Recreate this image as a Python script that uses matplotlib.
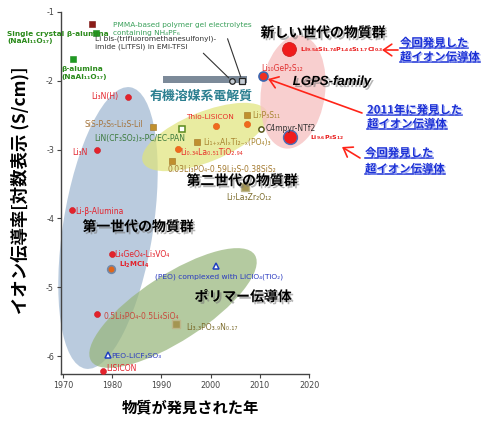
import matplotlib
matplotlib.use("Agg")
import matplotlib.pyplot as plt
from matplotlib.patches import Ellipse, Rectangle
from matplotlib import transforms
import matplotlib.patheffects as pe
from matplotlib.lines import Line2D

# ---------------- data ----------------
# first-generation inorganic conductors (red circles)
red_names = ["Li₃N(H)", "Li₃N", "Li-β-Alumina", "Li₄GeO₄-Li₃VO₄",
             "0.5Li₃PO₄-0.5Li₄SiO₄", "LISICON"]
red_years = [1983.2, 1977.0, 1971.8, 1979.9, 1977.0, 1978.1]
red_logs = [-2.23, -3.00, -3.88, -4.52, -5.39, -6.22]

# second-generation (orange circles)
orange_names = ["Thio-LISICON", "", "Li₀.₃₄La₀.₅₁TiO₂.₉₄"]
orange_years = [2001.2, 2007.3, 1993.3]
orange_logs = [-2.66, -2.63, -2.99]

# brown squares
brown_names = ["SiS-P₂S₅-Li₂S-LiI", "Li₇P₃S₁₁", "Li₁₊ₓAlₓTi₂₋ₓ(PO₄)₃",
               "0.03Li₃PO₄-0.59Li₂S-0.38SiS₂"]
brown_years = [1988.3, 2007.3, 1997.2, 1992.1]
brown_logs = [-2.67, -2.50, -2.89, -3.17]

# olive squares
olive_names = ["Li₇La₃Zr₂O₁₂", "Li₃.₃PO₃.₉N₀.₁₇"]
olive_years = [2006.9, 1992.9]
olive_logs = [-3.54, -5.54]

# beta-alumina (green squares) and dark red square
green_names = ["Single crystal β-alumina\n(NaAl₁₁O₁₇)", "β-alumina\n(NaAl₁₁O₁₇)"]
green_years = [1976.7, 1972.0]
green_logs = [-1.30, -1.69]
darkred_years = [1976.0]
darkred_logs = [-1.17]

# organic / ionic-liquid electrolytes
gel_names = ["LiN(CF₃SO₂)₃-PC/EC-PAN"]
gel_years = [1994.2]
gel_logs = [-2.70]
il_names = ["C4mpyr-NTf2"]
il_years = [2010.2]
il_logs = [-2.70]
org_names = ["Li bis-(trifluoromethanesulfonyl)-\nimide (LiTFSI) in EMI-TFSI",
             "PMMA-based polymer gel electrolytes\ncontaining NH₄PF₆"]
org_years = [2004.3, 2006.4]
org_logs = [-2.00, -2.00]

# polymer conductors (blue triangles)
poly_names = ["(PEO) complexed with LiClO₄(TiO₂)", "PEO-LiCF₃SO₃"]
poly_years = [2001.2, 1979.1]
poly_logs = [-4.69, -5.99]

# new superionic conductors
lgps_names = [r"$\mathbf{Li_{9.54}Si_{1.74}P_{1.44}S_{11.7}Cl_{0.3}}$",
              r"$\mathbf{Li_{9.6}P_{3}S_{12}}$"]
lgps_years = [2015.9, 2016.1]
lgps_logs = [-1.54, -2.82]
lgp_names = ["Li₁₀GeP₂S₁₂"]
lgp_years = [2010.6]
lgp_logs = [-1.93]
mcl_names = [r"$\mathbf{Li_{2}MCl_{4}}$"]
mcl_years = [1979.7]
mcl_logs = [-4.73]

xticks = [1970, 1980, 1990, 2000, 2010, 2020]
yticks = [-1, -2, -3, -4, -5, -6]

# ---------------- figure ----------------
W, H = 500, 430
fig = plt.figure(figsize=(W / 100, H / 100), dpi=100)
ax = fig.add_axes([61 / W, 56 / H, 248 / W, 362 / H])
ax.set_xlim(1969.6, 2020)
ax.set_ylim(-6.26, -1.0)
for s in ["top", "right"]:
    ax.spines[s].set_visible(False)
for s in ["left", "bottom"]:
    ax.spines[s].set_color("#444444")
    ax.spines[s].set_linewidth(1.0)
ax.set_xticks(xticks)
ax.set_xticklabels([str(v) for v in xticks])
ax.set_yticks(yticks)
ax.set_yticklabels(["-%d" % abs(v) for v in yticks])
ax.tick_params(labelsize=5.8, labelcolor="#444444", color="#444444",
               length=3, width=0.8, direction="out", pad=2)

CJK = ["Noto Sans CJK JP", "DejaVu Sans"]


def px2data(px, py):
    x = 1969.6 + (px - 61) / 248 * 50.4
    y = -1.0 - (py - 12) / 362 * 5.26
    return x, y


def ellipse(cpx, cpy, w, h, ang, color, alpha, z=0.5):
    cx, cy = px2data(cpx, cpy)
    tr = fig.dpi_scale_trans + transforms.ScaledTranslation(cx, cy, ax.transData)
    e = Ellipse((0, 0), w / 100, h / 100, angle=ang, transform=tr,
                facecolor=color, edgecolor="none", alpha=alpha, zorder=z,
                clip_on=False)
    ax.add_artist(e)


ellipse(108, 228, 285, 90, 81, "#a9bfd6", 0.8)
ellipse(173, 308, 195, 66, 33, "#98b67c", 0.72)
ellipse(205, 137, 134, 50, 22, "#e0e47a", 0.7)
ellipse(293, 92, 114, 64, 82, "#f7c3c3", 0.8)

# organic electrolyte bar
bx0, by0 = px2data(163, 83)
bx1, by1 = px2data(247, 76)
ax.add_patch(Rectangle((bx0, by0), bx1 - bx0, by1 - by0, facecolor="#7c8a99",
                       edgecolor="none", zorder=2))

# ---------------- markers ----------------
ax.plot(red_years, red_logs, "o", ms=4.3, color="#e3222b", mec="#d01a22", mew=0.4, zorder=4, ls="none")
ax.plot(orange_years, orange_logs, "o", ms=4.5, color="#f06a1e", mec="#e05a10", mew=0.4, zorder=4, ls="none")
ax.plot(brown_years, brown_logs, "s", ms=4.3, color="#c0902e", mec="#a07020", mew=0.4, zorder=4, ls="none")
ax.plot(olive_years, olive_logs, "s", ms=5.5, color="#a49552", mec="#bdb68a", mew=1.0, zorder=4, ls="none")
ax.plot(green_years, green_logs, "s", ms=4.8, color="#1f9a23", mec="#1f8a1f", mew=0.4, zorder=4, ls="none")
ax.plot(darkred_years, darkred_logs, "s", ms=5.0, color="#8b1c18", mec="#7a1010", mew=0.4, zorder=4, ls="none")
ax.plot(gel_years, gel_logs, "s", ms=4.0, mfc="white", mec="#5a8a1e", mew=1.1, zorder=4, ls="none")
ax.plot(il_years, il_logs, "o", ms=3.8, mfc="white", mec="#5a5a1e", mew=1.1, zorder=4, ls="none")
ax.plot(org_years[:1], org_logs[:1], "o", ms=4.0, mfc="#c4ccd4", mec="#222222", mew=0.9, zorder=4, ls="none")
ax.plot(org_years[1:], org_logs[1:], "s", ms=4.0, mfc="#c4ccd4", mec="#222222", mew=0.9, zorder=4, ls="none")
ax.plot(poly_years, poly_logs, "^", ms=4.5, mfc="white", mec="#2040c0", mew=1.1, zorder=4, ls="none")
ax.plot(lgps_years[:1], lgps_logs[:1], "o", ms=10, color="#f01c1c", mec="#d02020", mew=0.6, zorder=5, ls="none")
ax.plot(lgps_years[1:], lgps_logs[1:], "o", ms=10, color="#f01c1c", mec="#4a70b8", mew=1.0, zorder=5, ls="none")
ax.plot(lgp_years, lgp_logs, "o", ms=6.5, color="#f03020", mec="#3a66b0", mew=1.2, zorder=5, ls="none")
ax.plot(mcl_years, mcl_logs, "o", ms=5.5, color="#e0661a", mec="#7088a8", mew=1.2, zorder=5, ls="none")

# ---------------- point labels ----------------
FS = 5.5


def lab(name, x, y, dx, dy, ha="left", va="center", color="#e3222b", fs=FS,
        weight="normal", **kw):
    ax.annotate(name, (x, y), xytext=(dx, dy), textcoords="offset pixels",
                ha=ha, va=va, color=color, fontsize=fs, fontweight=weight,
                zorder=6, **kw)


red_off = [(-10, 0, "right"), (-10, -3, "right"), (3, -1, "left"),
           (3, 0, "left"), (6, -2, "left"), (3, 3, "left")]
red_cols = ["#e3222b", "#e3222b", "#e3222b", "#e3222b", "#c8483c", "#e3222b"]
for n, x, y, (dx, dy, ha), c in zip(red_names, red_years, red_logs, red_off, red_cols):
    lab(n, x, y, dx, dy, ha, color=c)

orange_off = [(-7, 9, "center"), (0, 0, "left"), (3, -4, "left")]
for n, x, y, (dx, dy, ha) in zip(orange_names, orange_years, orange_logs, orange_off):
    if n:
        lab(n, x, y, dx, dy, ha, color="#e8302a", fs=5.3 if n.startswith("Thio") else FS)

brown_off = [(-10, 2, "right"), (6, 0, "left"), (6, 0, "left"), (-4, -8, "left")]
brown_cols = ["#a4743c", "#a88530", "#a88530", "#a47a30"]
for n, x, y, (dx, dy, ha), c in zip(brown_names, brown_years, brown_logs, brown_off, brown_cols):
    lab(n, x, y, dx, dy, ha, color=c)

olive_off = [(4, -11, "center"), (11, -3, "left")]
for n, x, y, (dx, dy, ha) in zip(olive_names, olive_years, olive_logs, olive_off):
    lab(n, x, y, dx, dy, ha, color="#7a6a2a")

lab(green_names[0], green_years[0], green_logs[0], -89, 2, "left", "top",
    color="#2a8a1a", fs=5.3, weight="bold", linespacing=1.3)
lab(green_names[1], green_years[1], green_logs[1], -11, -7, "left", "top",
    color="#2a8a1a", fs=5.3, weight="bold", linespacing=1.3)

lab(gel_names[0], gel_years[0], gel_logs[0], 3, -10, "right", color="#3c7a3c")
lab(il_names[0], il_years[0], il_logs[0], 5, 0, "left", color="#333333")

ax.annotate(org_names[0], (org_years[0], org_logs[0]), xytext=(-137, 38),
            textcoords="offset pixels", ha="left", va="center", fontsize=5.3,
            color="#333333", linespacing=1.45, zorder=6,
            arrowprops=dict(arrowstyle="-", color="#333333", lw=0.8,
                            relpos=(0.86, 0.1), shrinkA=0, shrinkB=3))
ax.annotate(org_names[1], (org_years[1], org_logs[1]), xytext=(-129, 52),
            textcoords="offset pixels", ha="left", va="center", fontsize=5.3,
            color="#3aa05a", linespacing=1.45, zorder=6,
            arrowprops=dict(arrowstyle="-", color="#333333", lw=0.8,
                            relpos=(0.81, 0.25), shrinkA=0, shrinkB=3))

poly_off = [(3, -11, "center"), (4, -1, "left")]
for n, x, y, (dx, dy, ha) in zip(poly_names, poly_years, poly_logs, poly_off):
    lab(n, x, y, dx, dy, ha, color="#2a3ac0", fs=5.4)

lab(lgps_names[0], lgps_years[0], lgps_logs[0], 11, 0, "left", color="#e81a1a", fs=4.6)
lab(lgps_names[1], lgps_years[1], lgps_logs[1], 20, 0, "left", color="#e81a1a", fs=4.5)
lab(lgp_names[0], lgp_years[0], lgp_logs[0], -1, 8, "left", color="#e03030")
lab(mcl_names[0], mcl_years[0], mcl_logs[0], 8, 4, "left", color="#e3222b", fs=5.0)

# organic label
ax.annotate("有機溶媒系電解質", (bx0, by0), xytext=(-13, -13), textcoords="offset pixels",
            ha="left", va="center", fontsize=9.3, fontweight="bold",
            color="#2b7f90", family=CJK, zorder=6)


# ---------------- free texts ----------------
def T(xp, yp, s, **kw):
    return fig.text(xp / W, 1 - yp / H, s, **kw)


shadow = [pe.withSimplePatchShadow(offset=(1.5, -1.5), shadow_rgbFace="#777777", alpha=0.55)]
for xp, yp, s in [(138, 227, "第一世代の物質群"), (242, 181, "第二世代の物質群"),
                  (323, 33, "新しい世代の物質群"), (243, 297, "ポリマー伝導体")]:
    T(xp, yp, s, ha="center", va="center", fontsize=10, fontweight="bold",
      family=CJK, color="black", path_effects=shadow, zorder=7)
T(332, 82, "LGPS-family", ha="center", va="center", fontsize=9.5, fontweight="bold",
  fontstyle="italic", family=["Liberation Sans", "DejaVu Sans"], color="black",
  path_effects=shadow, zorder=7)

T(190, 407, "物質が発見された年", ha="center", va="center", fontsize=11,
  fontweight="bold", family=CJK)
T(20, 190, "イオン伝導率[対数表示 (S/cm)]", ha="center", va="center", fontsize=12.5,
  fontweight="bold", family=CJK, rotation=90)

# blue callouts
blue = "#1a2fd6"
bshadow = [pe.withSimplePatchShadow(offset=(1, -1), shadow_rgbFace="#9aa6f0", alpha=0.8)]
callouts = []
for xp, yp, s in [(400, 43, "今回発見した"), (400, 57, "超イオン伝導体"),
                  (367, 110, "2011年に発見した"), (367, 124, "超イオン伝導体"),
                  (365, 153, "今回発見した"), (365, 169, "超イオン伝導体")]:
    callouts.append(T(xp, yp, s, ha="left", va="center", fontsize=8.2,
                      fontweight="bold", family=CJK, color=blue,
                      path_effects=bshadow, zorder=7))

# red arrows
for (x0, y0), (x1, y1) in [((398, 50), (382, 50)), ((362, 113), (268, 79)),
                           ((360, 158), (342, 147))]:
    fig.add_artist(matplotlib.text.Annotation(
        "", xy=(x1, H - y1), xytext=(x0, H - y0), xycoords="figure pixels",
        textcoords="figure pixels",
        arrowprops=dict(arrowstyle="->,head_length=0.5,head_width=0.35",
                        color="#ff2418", lw=1.2, mutation_scale=12,
                        shrinkA=0, shrinkB=0)))

fig.canvas.draw()
r = fig.canvas.get_renderer()
for t in callouts:
    bb = t.get_window_extent(r)
    yl = bb.y0 + 1.5
    fig.add_artist(Line2D([bb.x0, bb.x1], [yl, yl], transform=transforms.IdentityTransform(),
                          color=blue, lw=1.1, zorder=7,
                          path_effects=[pe.withSimplePatchShadow(offset=(1, -1), shadow_rgbFace="#9aa6f0", alpha=0.8)]))

fig.savefig("out.png", dpi=100)
